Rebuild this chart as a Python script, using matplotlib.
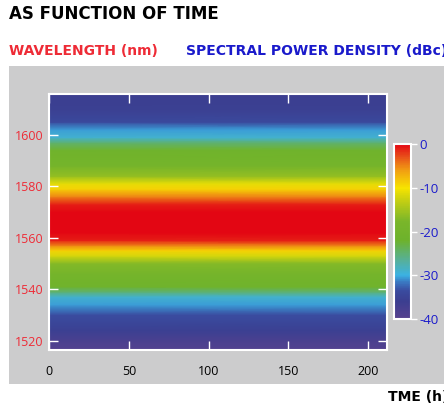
import numpy as np
import matplotlib
matplotlib.use("Agg")
import matplotlib.pyplot as plt
from matplotlib.colors import LinearSegmentedColormap

plt.rcParams["axes.unicode_minus"] = False

# spectral power density profile (dBc) vs wavelength, constant over time
wavelength = [1516, 1520, 1524, 1530, 1534, 1537, 1539, 1541, 1546, 1550, 1553, 1555,
              1557, 1559, 1562, 1570, 1573, 1576, 1579, 1581, 1584, 1588, 1594,
              1597, 1599, 1602, 1605, 1610, 1616]
power_dbc = [-39.5, -38, -35.5, -33.5, -30.5, -29, -25, -21, -19.5, -17, -12, -9,
             -5, -1, 0, 0, -1, -5, -9, -11, -16, -19.5, -21,
             -25, -29, -30.5, -34, -35.5, -36]
time_h = [0, 212]
x_ticks = [0, 50, 100, 150, 200]
y_ticks = [1520, 1540, 1560, 1580, 1600]
cb_ticks = [0, -10, -20, -30, -40]

cmap = LinearSegmentedColormap.from_list("spd", [
    (0.00, "#58428f"), (0.10, "#3b3e90"), (0.16, "#3a4b9f"), (0.21, "#3a78c2"),
    (0.25, "#3bb2e3"), (0.33, "#55b09e"), (0.45, "#6db22c"), (0.56, "#7ab62a"),
    (0.68, "#c6cf12"), (0.75, "#f7e400"), (0.85, "#f1a012"), (0.93, "#e8501a"),
    (1.00, "#e30613")])

fig = plt.figure(figsize=(4.44, 4.05), dpi=100)
# gray panel behind the plot
bg = fig.add_axes([9 / 444, 1 - 383.5 / 405, 1, (383.5 - 65.7) / 405], zorder=-10)
bg.set_facecolor("#cccccd")
bg.set_xticks([])
bg.set_yticks([])
for s in bg.spines.values():
    s.set_visible(False)

fig.text(9 / 444, 1 - 14 / 405, "AS FUNCTION OF TIME", fontsize=12, fontweight="bold",
         family="DejaVu Sans", va="center", ha="left")
fig.text(9 / 444, 1 - 51 / 405, "WAVELENGTH (nm)", fontsize=10, fontweight="bold",
         family="DejaVu Sans", color="#ee2b36", va="center", ha="left")
fig.text(186 / 444, 1 - 51 / 405, "SPECTRAL POWER DENSITY (dBc)", fontsize=10,
         fontweight="bold", family="DejaVu Sans", color="#1a1acb", va="center", ha="left")
fig.text(388 / 444, 1 - 397 / 405, "TME (h)", fontsize=10, fontweight="bold",
         family="DejaVu Sans", va="center", ha="left")

ax = fig.add_axes([49.3 / 444, 1 - 350 / 405, (387 - 49.3) / 444, (350 - 93.5) / 405])
T, W = np.meshgrid(time_h, wavelength)
Z = np.tile(np.array(power_dbc)[:, None], (1, len(time_h)))
mesh = ax.pcolormesh(T, W, Z, cmap=cmap, vmin=-40, vmax=0, shading="gouraud")
ax.set_xlim(0, 212)
ax.set_ylim(1516.4, 1616.1)
ax.set_xticks(x_ticks)
ax.set_yticks(y_ticks)
ax.tick_params(direction="in", color="white", length=6.5, width=1,
               top=True, right=True, labelsize=9)
ax.tick_params(axis="y", labelcolor="#ee2b36", pad=4)
ax.tick_params(axis="x", pad=11)
for lab in ax.get_xticklabels() + ax.get_yticklabels():
    lab.set_family("Open Sans")
for s in ax.spines.values():
    s.set_color("white")
    s.set_linewidth(1.5)

cax = fig.add_axes([394.3 / 444, 1 - 319 / 405, 16.7 / 444, (319 - 144.3) / 405])
cb = fig.colorbar(mesh, cax=cax, ticks=cb_ticks)
cb.outline.set_edgecolor("white")
cb.outline.set_linewidth(1.5)
cax.tick_params(color="white", length=4, width=1, labelcolor="#1a1acb", labelsize=9.5, pad=2)
for lab in cax.get_yticklabels():
    lab.set_family("Open Sans")

fig.savefig("out.png", dpi=100)
